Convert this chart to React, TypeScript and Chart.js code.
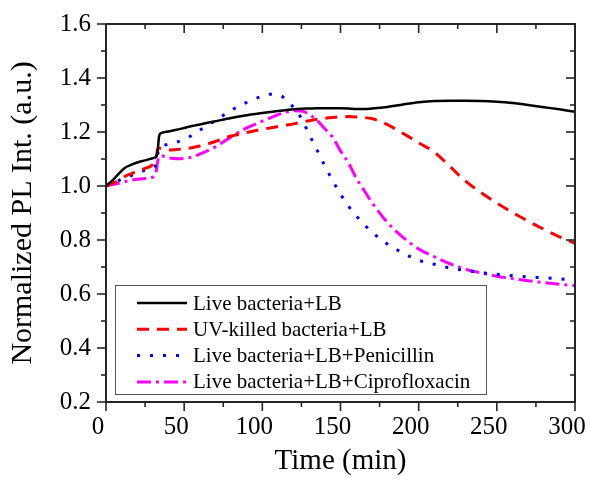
import { useEffect, useRef } from 'react';
import { Chart, registerables } from 'chart.js';

Chart.register(...registerables);

const times = [0, 4, 8, 12, 16, 20, 25, 30, 32, 33, 34, 35, 40, 45, 50, 55, 60, 70, 80, 90, 100, 105, 110, 115, 120, 125, 130, 135, 140, 145, 150, 155, 160, 165, 170, 180, 190, 200, 210, 220, 230, 240, 250, 260, 270, 280, 290, 300];

const liveLB = [1.0, 1.02, 1.045, 1.067, 1.078, 1.087, 1.095, 1.103, 1.108, 1.13, 1.185, 1.195, 1.202, 1.208, 1.215, 1.222, 1.228, 1.24, 1.252, 1.262, 1.27, 1.274, 1.278, 1.281, 1.284, 1.286, 1.287, 1.288, 1.288, 1.288, 1.288, 1.287, 1.285, 1.285, 1.287, 1.293, 1.302, 1.31, 1.315, 1.316, 1.316, 1.315, 1.312, 1.307, 1.3, 1.292, 1.284, 1.275];

const uvKilledLB = [1.0, 1.01, 1.02, 1.035, 1.045, 1.055, 1.065, 1.08, 1.1, 1.135, 1.14, 1.14, 1.133, 1.135, 1.138, 1.142, 1.148, 1.165, 1.185, 1.198, 1.21, 1.215, 1.22, 1.225, 1.23, 1.236, 1.242, 1.247, 1.251, 1.254, 1.256, 1.257, 1.256, 1.253, 1.25, 1.227, 1.195, 1.16, 1.126, 1.072, 1.018, 0.975, 0.937, 0.902, 0.87, 0.84, 0.812, 0.788];

const penicillinLB = [1.0, 1.01, 1.02, 1.03, 1.038, 1.048, 1.058, 1.067, 1.08, 1.115, 1.14, 1.145, 1.155, 1.162, 1.173, 1.188, 1.207, 1.242, 1.28, 1.31, 1.333, 1.34, 1.338, 1.322, 1.29, 1.25, 1.19, 1.133, 1.074, 1.02, 0.97, 0.926, 0.89, 0.858, 0.83, 0.785, 0.752, 0.725, 0.71, 0.696, 0.687, 0.679, 0.673, 0.668, 0.663, 0.66, 0.656, 0.652];

const ciprofloxacinLB = [1.0, 1.005, 1.01, 1.016, 1.021, 1.025, 1.028, 1.033, 1.05, 1.09, 1.11, 1.112, 1.104, 1.101, 1.102, 1.107, 1.118, 1.145, 1.182, 1.215, 1.24, 1.252, 1.264, 1.273, 1.279, 1.278, 1.265, 1.243, 1.212, 1.18, 1.13, 1.087, 1.03, 0.985, 0.94, 0.865, 0.81, 0.767, 0.738, 0.712, 0.692, 0.678, 0.666, 0.657, 0.649, 0.642, 0.636, 0.631];

const seriesLabels = [
  'Live bacteria+LB',
  'UV-killed bacteria+LB',
  'Live bacteria+LB+Penicillin',
  'Live bacteria+LB+Ciprofloxacin',
];

const xMajorStep = 50;
const xMinorStep = 25;
const yMajorStep = 0.2;
const yMinorStep = 0.1;

const FONT = "'Liberation Serif', 'Times New Roman', serif";

const toPoints = (vals: number[]) => times.map((t, i) => ({ x: t, y: vals[i] }));

const framePlugin = {
  id: 'frameTicks',
  afterDraw(chart: any) {
    const { ctx, chartArea, scales } = chart;
    const { left, right, top, bottom } = chartArea;
    const xs = scales.x;
    const ys = scales.y;
    ctx.save();
    ctx.strokeStyle = '#262626';
    ctx.lineWidth = 1.6;
    const seg = (x1: number, y1: number, x2: number, y2: number) => {
      ctx.beginPath();
      ctx.moveTo(x1, y1);
      ctx.lineTo(x2, y2);
      ctx.stroke();
    };
    xs.ticks.forEach((t: any) => {
      const v = t.value;
      const px = xs.getPixelForValue(v);
      const major = Math.abs(v / xMajorStep - Math.round(v / xMajorStep)) < 1e-6;
      const len = major ? 9 : 5;
      seg(px, bottom, px, bottom + len);
      seg(px, top, px, top + len);
    });
    ys.ticks.forEach((t: any) => {
      const v = t.value;
      const py = ys.getPixelForValue(v);
      const major = Math.abs(v / yMajorStep - Math.round(v / yMajorStep)) < 1e-6;
      const len = major ? 9 : 5;
      seg(left - len, py, left, py);
      seg(right - len, py, right, py);
    });
    ctx.lineWidth = 2;
    ctx.strokeRect(left, top, right - left, bottom - top);
    ctx.restore();
  },
};

const legendPlugin = {
  id: 'insideLegend',
  afterDraw(chart: any, _args: any, opts: any) {
    const { ctx } = chart;
    const { x, y, width, height, rowHeight, sampleLength, textGap, padTop } = opts;
    ctx.save();
    ctx.fillStyle = '#ffffff';
    ctx.fillRect(x, y, width, height);
    ctx.strokeStyle = '#555555';
    ctx.lineWidth = 1;
    ctx.strokeRect(x + 0.5, y + 0.5, width, height);
    ctx.font = `21px ${FONT}`;
    ctx.textBaseline = 'middle';
    ctx.textAlign = 'left';
    chart.data.datasets.forEach((ds: any, i: number) => {
      const cy = y + padTop + i * rowHeight;
      const sx = x + 22;
      ctx.strokeStyle = ds.borderColor;
      ctx.lineWidth = ds.borderWidth;
      ctx.setLineDash(ds.borderDash || []);
      ctx.beginPath();
      ctx.moveTo(sx, cy);
      ctx.lineTo(sx + sampleLength, cy);
      ctx.stroke();
      ctx.setLineDash([]);
      ctx.fillStyle = '#000000';
      ctx.fillText(ds.label, sx + sampleLength + textGap, cy + 1);
    });
    ctx.restore();
  },
};

export default function App() {
  const canvasRef = useRef<HTMLCanvasElement | null>(null);

  useEffect(() => {
    document.body.style.margin = '0';
    const canvas = canvasRef.current;
    if (!canvas) return;
    const chart = new Chart(canvas, {
      type: 'line',
      data: {
        datasets: [
          {
            label: seriesLabels[0],
            data: toPoints(liveLB),
            borderColor: '#000000',
            borderWidth: 2.5,
            borderDash: [],
            pointRadius: 0,
            cubicInterpolationMode: 'monotone',
            fill: false,
          },
          {
            label: seriesLabels[1],
            data: toPoints(uvKilledLB),
            borderColor: '#ff0000',
            borderWidth: 3,
            borderDash: [12, 8],
            pointRadius: 0,
            cubicInterpolationMode: 'monotone',
            fill: false,
          },
          {
            label: seriesLabels[2],
            data: toPoints(penicillinLB),
            borderColor: '#0000ff',
            borderWidth: 3,
            borderDash: [3, 10],
            pointRadius: 0,
            cubicInterpolationMode: 'monotone',
            fill: false,
          },
          {
            label: seriesLabels[3],
            data: toPoints(ciprofloxacinLB),
            borderColor: '#ff00ff',
            borderWidth: 3,
            borderDash: [14, 5, 3, 5],
            pointRadius: 0,
            cubicInterpolationMode: 'monotone',
            fill: false,
          },
        ],
      },
      options: {
        animation: false,
        responsive: false,
        maintainAspectRatio: false,
        devicePixelRatio: 1,
        layout: { padding: { top: 24, right: 15, left: 0, bottom: 0 } },
        plugins: {
          legend: { display: false },
          tooltip: { enabled: false },
          insideLegend: {
            x: 115,
            y: 285,
            width: 371,
            height: 109,
            rowHeight: 26.3,
            padTop: 18,
            sampleLength: 50,
            textGap: 6,
          },
        } as any,
        scales: {
          x: {
            type: 'linear',
            min: 0,
            max: 300,
            grid: { display: false, drawTicks: false },
            border: { display: false },
            ticks: {
              stepSize: xMinorStep,
              autoSkip: false,
              maxRotation: 0,
              padding: 10,
              labelOffset: -8,
              color: '#000000',
              font: { family: FONT, size: 25 },
              callback: (v: any) => (Math.abs(v / xMajorStep - Math.round(v / xMajorStep)) < 1e-6 ? String(v) : ''),
            },
            title: {
              display: true,
              text: 'Time (min)',
              color: '#000000',
              font: { family: FONT, size: 29 },
              padding: { top: 0, bottom: 4 },
            },
            afterFit: (s: any) => {
              s.height = 81;
              s.paddingLeft = 0;
              s.paddingRight = 0;
            },
          },
          y: {
            type: 'linear',
            min: 0.2,
            max: 1.6,
            grid: { display: false, drawTicks: false },
            border: { display: false },
            ticks: {
              stepSize: yMinorStep,
              autoSkip: false,
              padding: 15,
              color: '#000000',
              font: { family: FONT, size: 25 },
              callback: (v: any) => (Math.abs(v / yMajorStep - Math.round(v / yMajorStep)) < 1e-6 ? Number(v).toFixed(1) : ''),
            },
            title: {
              display: true,
              text: 'Normalized PL Int. (a.u.)',
              color: '#000000',
              font: { family: FONT, size: 30 },
              padding: { top: 5, bottom: 0 },
            },
            afterFit: (s: any) => {
              s.width = 106;
              s.paddingTop = 0;
              s.paddingBottom = 0;
            },
          },
        },
      },
      plugins: [framePlugin, legendPlugin],
    } as any);
    return () => chart.destroy();
  }, []);

  return (
    <div style={{ width: 590, height: 483 }}>
      <canvas ref={canvasRef} width={590} height={483} style={{ display: 'block', width: 590, height: 483 }} />
    </div>
  );
}
